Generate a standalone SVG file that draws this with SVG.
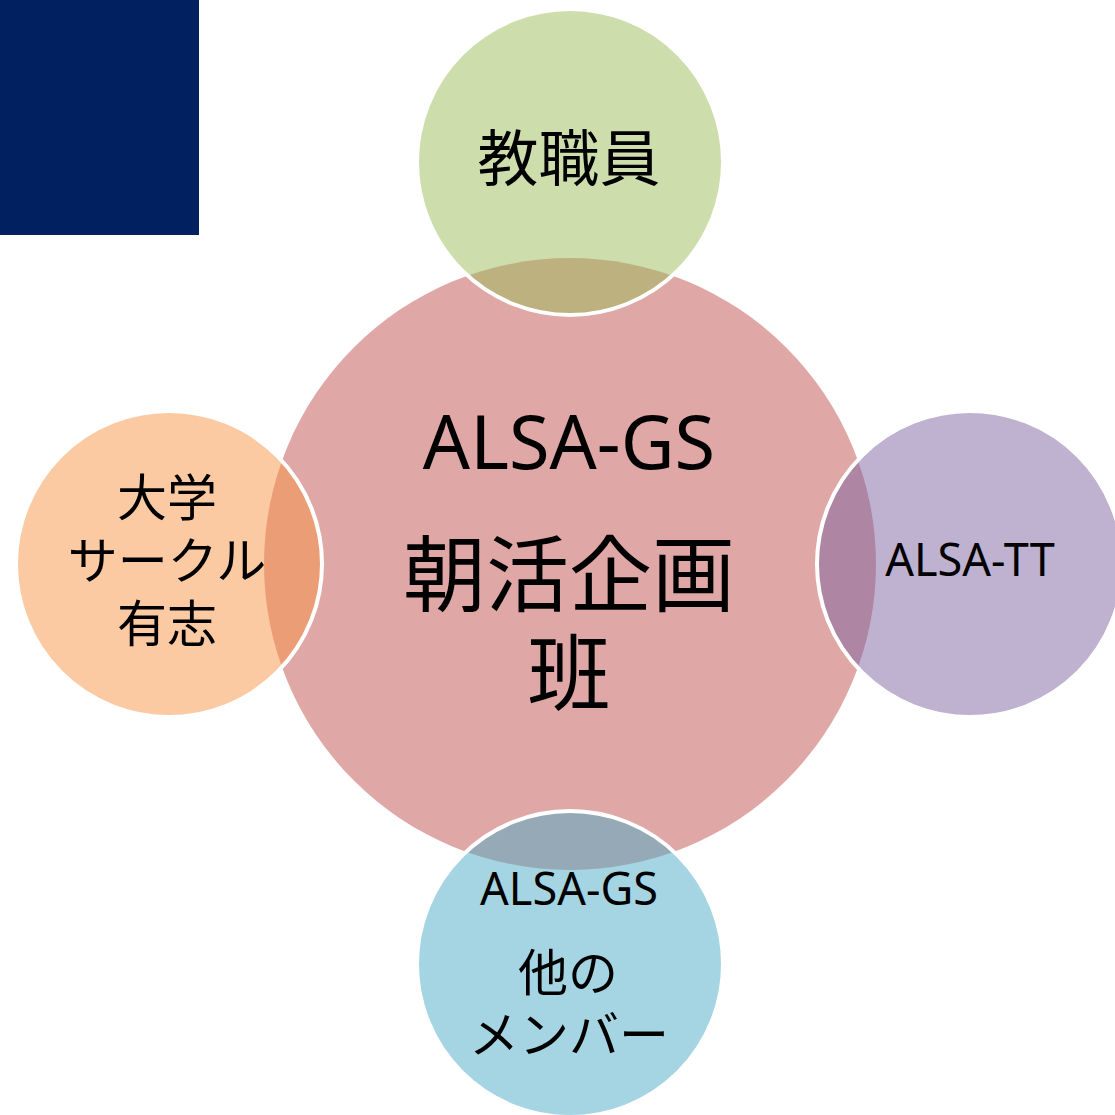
<svg xmlns="http://www.w3.org/2000/svg" width="1115" height="1115" viewBox="0 0 1115 1115">
  <style>
    .sat { stroke: #ffffff; stroke-width: 4; fill-opacity: 0.5; }
    .t { font-family: "Noto Sans", "Noto Sans CJK JP", sans-serif; fill: #000000; text-anchor: middle; }
  </style>
  <rect x="0" y="0" width="1115" height="1115" fill="#ffffff"/>
  <rect id="corner-block" x="0" y="0" width="199" height="235" fill="#002060"/>
  <g id="center">
    <circle cx="570" cy="564" r="306" fill="#C0504D" fill-opacity="0.5"/>
    <text class="t" x="569" y="469" font-size="74">ALSA-GS</text>
    <text class="t" x="569" y="605" font-size="83">朝活企画</text>
    <text class="t" x="569" y="704" font-size="83">班</text>
  </g>
  <g id="top">
    <circle class="sat" cx="570" cy="162" r="153" fill="#9BBB59"/>
    <text class="t" x="569" y="181" font-size="61">教職員</text>
  </g>
  <g id="right">
    <circle class="sat" cx="970" cy="564" r="153" fill="#8064A2"/>
    <text class="t" x="970" y="576" font-size="45">ALSA-TT</text>
  </g>
  <g id="bottom">
    <circle class="sat" cx="570" cy="964" r="153" fill="#4BACC6"/>
    <text class="t" x="569" y="905" font-size="45">ALSA-GS</text>
    <text class="t" x="568" y="991" font-size="50">他の</text>
    <text class="t" x="569" y="1053" font-size="50">メンバー</text>
  </g>
  <g id="left">
    <circle class="sat" cx="169" cy="564" r="153" fill="#F79646"/>
    <text class="t" x="167" y="516" font-size="50">大学</text>
    <text class="t" x="167" y="579" font-size="50">サークル</text>
    <text class="t" x="167" y="642" font-size="50">有志</text>
  </g>
</svg>
